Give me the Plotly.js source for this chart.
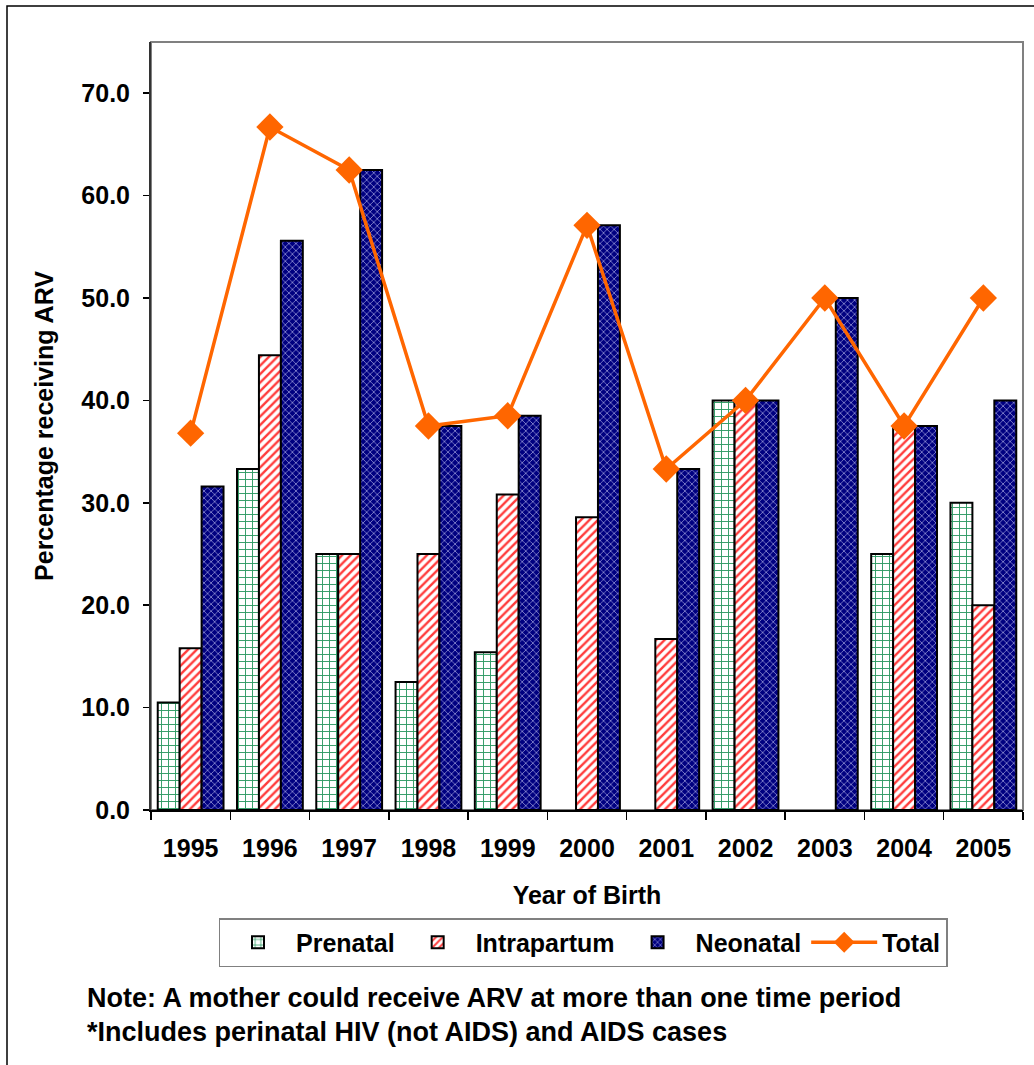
<!DOCTYPE html>
<html>
<head>
<meta charset="utf-8">
<script src="https://cdn.plot.ly/plotly-3.0.1.min.js"></script>
<style>html,body{margin:0;padding:0;background:#fff;}#chart{width:1034px;height:1065px;}</style>
</head>
<body>
<div id="chart"></div>
<script>
var years = ["1995","1996","1997","1998","1999","2000","2001","2002","2003","2004","2005"];
var prenatal    = [10.5, 33.3, 25.0, 12.5, 15.4, 0, 0, 40.0, 0, 25.0, 30.0];
var intrapartum = [15.8, 44.4, 25.0, 25.0, 30.8, 28.6, 16.7, 40.0, 0, 37.5, 20.0];
var neonatal    = [31.6, 55.6, 62.5, 37.5, 38.5, 57.1, 33.3, 40.0, 50.0, 37.5, 40.0];
var total       = [36.8, 66.7, 62.5, 37.5, 38.5, 57.1, 33.3, 40.0, 50.0, 37.5, 50.0];
var yTicks = [0, 10, 20, 30, 40, 50, 60, 70];

var FONT = "Arial, 'Liberation Sans', sans-serif";
var PL = 151, PR = 1023, PT = 42, PB = 810;
var W = PR - PL, H = PB - PT;
function px(x){ return (x - PL) / W; }
function py(y){ return (PB - y) / H; }
function outline(vals){ return {color: "#000000", width: vals.map(function(v){ return v > 0 ? 2 : 0; })}; }

var traces = [
  {type: "bar", name: "Prenatal", x: years, y: prenatal,
   marker: {color: "#ffffff", line: outline(prenatal),
     pattern: {shape: "+", bgcolor: "#ffffff", fgcolor: "#2e9a63", fgopacity: 1, size: 7, solidity: 0.25}}},
  {type: "bar", name: "Intrapartum", x: years, y: intrapartum,
   marker: {color: "#ffffff", line: outline(intrapartum),
     pattern: {shape: "/", bgcolor: "#ffffff", fgcolor: "#ff3b3b", fgopacity: 1, size: 6, solidity: 0.4}}},
  {type: "bar", name: "Neonatal", x: years, y: neonatal,
   marker: {color: "#000080", line: outline(neonatal),
     pattern: {shape: "x", bgcolor: "#000080", fgcolor: "#8a8ad0", fgopacity: 1, size: 5, solidity: 0.3}}},
  {type: "scatter", mode: "lines+markers", name: "Total", x: years, y: total,
   line: {color: "#ff6600", width: 3.5},
   marker: {symbol: "diamond", size: 21, color: "#ff6600"}}
];

var layout = {
  width: 1034, height: 1065,
  margin: {l: PL, r: 1034 - PR, t: PT, b: 1065 - PB},
  paper_bgcolor: "#ffffff", plot_bgcolor: "#ffffff",
  font: {family: FONT, color: "#000000", size: 24},
  barmode: "group", bargap: 0.17, bargroupgap: 0,
  showlegend: true,
  legend: {orientation: "h", x: px(583), y: py(918), xanchor: "center", yanchor: "top",
    bordercolor: "#808080", borderwidth: 1.5, bgcolor: "#ffffff",
    font: {family: FONT, size: 25, color: "#000000", weight: "bold"},
    traceorder: "normal", itemwidth: 66},
  xaxis: {type: "category", range: [-0.5, 10.5], showgrid: false, showline: true, linecolor: "#000000", linewidth: 2,
    ticks: "outside", tickson: "boundaries", ticklen: 8, tickcolor: "#000000", tickwidth: 1.5,
    ticklabelstandoff: 15,
    tickfont: {family: FONT, size: 25, weight: "bold"},
    title: {text: "Year of Birth", font: {family: FONT, size: 25, weight: "bold"}, standoff: 25},
    automargin: false},
  yaxis: {range: [0, 75], tickvals: yTicks, tickformat: ".1f", showgrid: false, zeroline: false,
    showline: true, linecolor: "#333333", linewidth: 2,
    ticks: "outside", ticklen: 6, tickcolor: "#000000", tickwidth: 1.5,
    ticklabelstandoff: 8,
    tickfont: {family: FONT, size: 25, weight: "bold"},
    title: {text: "Percentage receiving ARV", font: {family: FONT, size: 25, weight: "bold"}, standoff: 21},
    automargin: false},
  shapes: [
    {type: "rect", xref: "paper", yref: "paper", x0: 0, x1: 1, y0: 0, y1: 1,
     line: {color: "#808080", width: 2}, layer: "below"},
    {type: "rect", xref: "paper", yref: "paper", x0: px(7), x1: px(1045), y0: py(1075), y1: py(6),
     line: {color: "#000000", width: 1.5}, layer: "below"}
  ],
  annotations: [
    {xref: "paper", yref: "paper", x: px(85), y: py(998), xanchor: "left", yanchor: "middle",
     showarrow: false, text: "Note: A mother could receive ARV at more than one time period",
     font: {family: FONT, size: 27, weight: "bold"}},
    {xref: "paper", yref: "paper", x: px(85), y: py(1032), xanchor: "left", yanchor: "middle",
     showarrow: false, text: "*Includes perinatal HIV (not AIDS) and AIDS cases",
     font: {family: FONT, size: 27, weight: "bold"}}
  ]
};

Plotly.newPlot("chart", traces, layout, {displayModeBar: false, staticPlot: true});
</script>
</body>
</html>
